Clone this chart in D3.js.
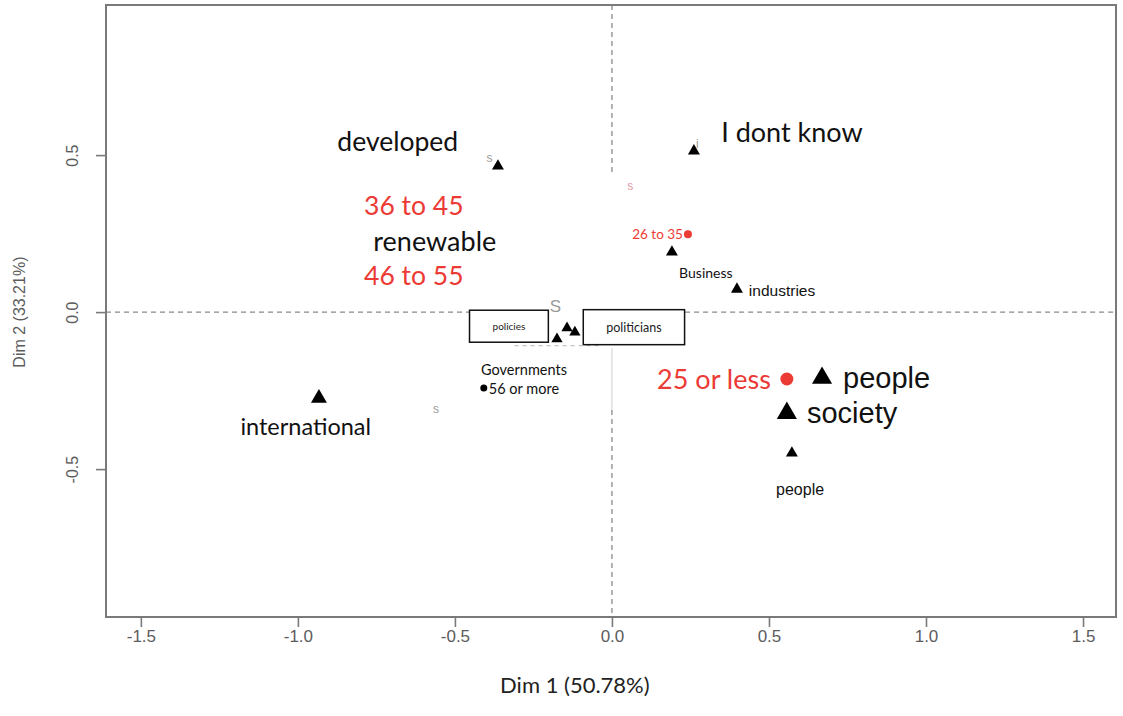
<!DOCTYPE html>
<html>
<head>
<meta charset="utf-8">
<script src="https://cdn.jsdelivr.net/npm/d3@7"></script>
<style>
  html, body { margin: 0; padding: 0; background: #fff; }
  svg { display: block; }
</style>
</head>
<body>
<div id="chart"></div>
<script>
const WIDTH = 1123;
const HEIGHT = 716;

const margin = { top: 5, right: 7, bottom: 99, left: 106 };
const innerW = WIDTH - margin.left - margin.right;
const innerH = HEIGHT - margin.top - margin.bottom;

// axes
const xDomain = [-1.611, 1.605];
const yDomain = [-0.971, 0.978];
const xTicks = [-1.5, -1.0, -0.5, 0.0, 0.5, 1.0, 1.5];
const yTicks = [-0.5, 0.0, 0.5];
const xTitle = 'Dim 1 (50.78%)';
const yTitle = 'Dim 2 (33.21%)';

// word categories (triangles)
const termNames = ['developed', 'I dont know', 'Business', 'industries', 'people', 'society', 'people (2)', 'international', 'policies', 'politicians', 'Governments'];
const termDim1 = [-0.363, 0.261, 0.191, 0.398, 0.669, 0.557, 0.573, -0.933, -0.175, -0.143, -0.118];
const termDim2 = [0.465, 0.513, 0.191, 0.073, -0.210, -0.322, -0.449, -0.274, -0.086, -0.051, -0.064];

// age groups (circles)
const ageNames = ['26 to 35', '25 or less', '56 or more'];
const ageDim1 = [0.242, 0.557, -0.408];
const ageDim2 = [0.248, -0.213, -0.242];

// pasted annotations, placed in plot coordinates
const noteText = ['developed', 'I dont know', '36 to 45', 'renewable', '46 to 55', '26 to 35', 'Business', 'industries',
  'Governments', '56 or more', '25 or less', 'people', 'society', 'people', 'international'];
const noteDim1 = [-0.682, 0.573, -0.631, -0.564, -0.631, 0.226, 0.299, 0.436, -0.280, -0.392, 0.506, 0.736, 0.621, 0.599, -0.975];
const noteDim2 = [0.545, 0.576, 0.341, 0.229, 0.118, 0.248, 0.127, 0.070, -0.182, -0.242, -0.213, -0.210, -0.322, -0.564, -0.363];

// boxed labels
const boxText = ['policies', 'politicians'];
const boxDim1 = [-0.328, 0.070];
const boxDim2 = [-0.045, -0.048];

// leftovers of the original R labels
const ghostText = ['s', 'i', 's', 'S', 's'];
const ghostDim1 = [-0.390, 0.272, 0.058, -0.180, -0.560];
const ghostDim2 = [0.490, 0.535, 0.400, 0.018, -0.310];

// visible pieces of the reference lines
const vLineParts = [[0.978, 0.443], [-0.312, -0.971]];
const hLineParts = [[-1.611, -0.455], [0.233, 1.605]];

const RED = '#ec3a35';
const FRAME = '#7a7a7a';
const fmt = (d) => d3.format('.1f')(d).replace('\u2212', '-');

const noteStyle = {
  'developed': { size: 26.5, anchor: 'middle' },
  'I dont know': { size: 27, anchor: 'middle' },
  '36 to 45': { size: 26.5, anchor: 'middle', color: RED },
  'renewable': { size: 27, anchor: 'middle' },
  '46 to 55': { size: 26.5, anchor: 'middle', color: RED },
  '26 to 35': { size: 13.5, anchor: 'end', color: RED },
  'Business': { size: 14, anchor: 'middle', family: 'Lato' },
  'industries': { size: 15.5, anchor: 'start', family: 'Liberation Sans' },
  'Governments': { size: 14.5, anchor: 'middle' },
  '56 or more': { size: 14.5, anchor: 'start' },
  '25 or less': { size: 27, anchor: 'end', color: RED },
  'people': { size: 29, anchor: 'start', family: 'Liberation Sans' },
  'society': { size: 29, anchor: 'start', family: 'Liberation Sans' },
  'international': { size: 23.5, anchor: 'middle' },
};
const smallPeople = { size: 16, anchor: 'middle', family: 'Liberation Sans' };

const triSize = (name) => {
  if (name === 'people' || name === 'society') return 175;
  if (name === 'international') return 110;
  if (['policies', 'politicians', 'Governments'].includes(name)) return 55;
  return 62;
};

const svg = d3
  .select('#chart')
  .append('svg')
  .attr('width', WIDTH)
  .attr('height', HEIGHT)
  .append('g')
  .attr('transform', `translate(${margin.left}, ${margin.top})`);

const x = d3.scaleLinear().domain(xDomain).range([0, innerW]);
const y = d3.scaleLinear().domain(yDomain).range([innerH, 0]);

// reference lines
const refs = svg.append('g')
  .attr('stroke', '#8a8a8a')
  .attr('stroke-width', 1.3)
  .attr('stroke-dasharray', '5,4')
  .attr('fill', 'none');
vLineParts.forEach(([a, b]) => {
  refs.append('line').attr('x1', x(0)).attr('x2', x(0)).attr('y1', y(a)).attr('y2', y(b));
});
hLineParts.forEach(([a, b]) => {
  refs.append('line').attr('x1', x(a)).attr('x2', x(b)).attr('y1', y(0)).attr('y2', y(0));
});
// faint edges of the pasted patches
svg.append('line')
  .attr('x1', x(0)).attr('x2', x(0))
  .attr('y1', y(-0.115)).attr('y2', y(-0.312))
  .attr('stroke', '#cfcfcf').attr('stroke-width', 1);
svg.append('line')
  .attr('x1', x(-0.31)).attr('x2', x(-0.04))
  .attr('y1', y(-0.107)).attr('y2', y(-0.107))
  .attr('stroke', '#c4c4c4').attr('stroke-width', 1.2)
  .attr('stroke-dasharray', '4,4');

// ghost labels
svg.append('g')
  .selectAll('text')
  .data(ghostText)
  .join('text')
  .attr('x', (d, i) => x(ghostDim1[i]))
  .attr('y', (d, i) => y(ghostDim2[i]))
  .attr('dominant-baseline', 'central')
  .attr('text-anchor', 'middle')
  .attr('font-family', 'Liberation Sans, sans-serif')
  .attr('font-size', (d) => (d === 'S' ? 17 : 12))
  .attr('fill', (d, i) => (i === 2 ? '#e39aa8' : '#9a9a9a'))
  .text((d) => d);

// frame
svg.append('rect')
  .attr('width', innerW)
  .attr('height', innerH)
  .attr('fill', 'none')
  .attr('stroke', FRAME)
  .attr('stroke-width', 2);

// x axis
const gx = svg.append('g')
  .attr('transform', `translate(0, ${innerH})`)
  .call(d3.axisBottom(x).tickValues(xTicks).tickSize(10).tickSizeOuter(0).tickPadding(3).tickFormat(fmt));
gx.select('.domain').remove();
gx.selectAll('line').attr('stroke', FRAME).attr('stroke-width', 1.6);
gx.selectAll('text')
  .attr('fill', '#5c5c5c')
  .attr('font-family', 'Liberation Sans Narrow, Liberation Sans, sans-serif')
  .attr('font-size', 17);

// y axis, labels turned like R's default
const gy = svg.append('g')
  .call(d3.axisLeft(y).tickValues(yTicks).tickSize(10).tickSizeOuter(0).tickFormat(fmt));
gy.select('.domain').remove();
gy.selectAll('line').attr('stroke', FRAME).attr('stroke-width', 1.6);
gy.selectAll('text')
  .attr('x', null)
  .attr('dy', null)
  .attr('text-anchor', 'middle')
  .attr('transform', 'translate(-34, 0) rotate(-90)')
  .attr('dominant-baseline', 'central')
  .attr('fill', '#5c5c5c')
  .attr('font-family', 'Liberation Sans, sans-serif')
  .attr('font-size', 16);

// axis titles
svg.append('text')
  .attr('x', x(-0.118))
  .attr('y', innerH + 76)
  .attr('text-anchor', 'middle')
  .attr('font-family', 'Lato, sans-serif')
  .attr('font-size', 22)
  .attr('fill', '#222')
  .text(xTitle);

svg.append('text')
  .attr('transform', `translate(${-87}, ${y(0)}) rotate(-90)`)
  .attr('text-anchor', 'middle')
  .attr('dominant-baseline', 'central')
  .attr('font-family', 'Liberation Sans, sans-serif')
  .attr('font-size', 16)
  .attr('fill', '#5c5c5c')
  .text(yTitle);

// triangles
svg.append('g')
  .selectAll('path')
  .data(termNames)
  .join('path')
  .attr('transform', (d, i) => `translate(${x(termDim1[i])}, ${y(termDim2[i])})`)
  .attr('d', (d) => d3.symbol().type(d3.symbolTriangle).size(triSize(d))())
  .attr('fill', '#000');

// circles
svg.append('g')
  .selectAll('circle')
  .data(ageNames)
  .join('circle')
  .attr('cx', (d, i) => x(ageDim1[i]))
  .attr('cy', (d, i) => y(ageDim2[i]))
  .attr('r', (d) => (d === '25 or less' ? 6.5 : d === '26 to 35' ? 4 : 3.5))
  .attr('fill', (d) => (d === '56 or more' ? '#000' : RED));

// annotations
svg.append('g')
  .selectAll('text')
  .data(noteText)
  .join('text')
  .each(function (d, i) {
    const s = i === 13 ? smallPeople : noteStyle[d];
    d3.select(this)
      .attr('x', x(noteDim1[i]))
      .attr('y', y(noteDim2[i]))
      .attr('dominant-baseline', 'central')
      .attr('text-anchor', s.anchor)
      .attr('font-family', `${s.family || 'Lato'}, sans-serif`)
      .attr('font-size', s.size)
      .attr('fill', s.color || '#111')
      .text(d);
  });

// boxed labels
const boxes = svg.append('g')
  .selectAll('g')
  .data(boxText)
  .join('g')
  .attr('transform', (d, i) => `translate(${x(boxDim1[i])}, ${y(boxDim2[i])})`);
boxes.append('text')
  .attr('text-anchor', 'middle')
  .attr('dominant-baseline', 'central')
  .attr('font-family', 'Lato, sans-serif')
  .attr('font-size', (d) => (d === 'policies' ? 10 : 12.5))
  .attr('fill', '#222')
  .text((d) => d);
boxes.each(function () {
  const g = d3.select(this);
  const bb = g.select('text').node().getBBox();
  const padX = 23;
  const h = g.datum() === 'policies' ? 32 : 35;
  g.insert('rect', 'text')
    .attr('x', bb.x - padX)
    .attr('y', -h / 2)
    .attr('width', bb.width + padX * 2)
    .attr('height', h)
    .attr('fill', '#fff')
    .attr('stroke', '#111')
    .attr('stroke-width', 1.5);
});
</script>
</body>
</html>
